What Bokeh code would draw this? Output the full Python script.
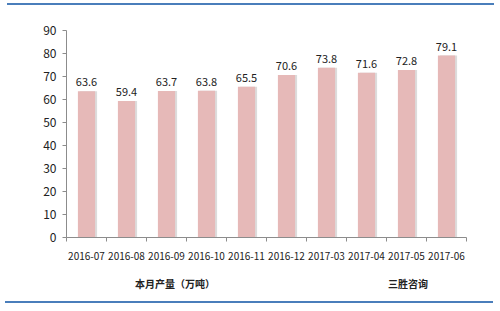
from bokeh.plotting import figure
from bokeh.layouts import column
from bokeh.models import (ColumnDataSource, FixedTicker, Legend, LegendItem, Range1d, Div)
from bokeh.embed import file_html
from bokeh.resources import INLINE
from bokeh.core.properties import value

months = ["2016-07", "2016-08", "2016-09", "2016-10", "2016-11",
          "2016-12", "2017-03", "2017-04", "2017-05", "2017-06"]
output = [63.6, 59.4, 63.7, 63.8, 65.5, 70.6, 73.8, 71.6, 72.8, 79.1]
y_ticks = [0, 10, 20, 30, 40, 50, 60, 70, 80, 90]
series_name = "本月产量（万吨）"
brand = "三胜咨询"

centers = [i + 0.5 for i in range(len(months))]
src = ColumnDataSource(dict(x=centers, y=output, lab=[f"{v:.1f}" for v in output]))

FONT = "Noto Sans CJK SC"
AXIS_COLOR = "#8C8C8C"
BAR_COLOR = "#E6B9B8"
BLUE = "#4A7EBB"

LEFT, RIGHT = 66, 34

top_rule = Div(text="", width=487, height=2, margin=(3, 0, 0, 7),
               styles={"background-color": BLUE})
bottom_rule = Div(text="", width=488, height=2, margin=(1, 0, 0, 5),
                  styles={"background-color": BLUE})

p = figure(width=500, height=261, output_backend="svg", toolbar_location=None,
           x_range=Range1d(0, len(months)), y_range=Range1d(0, 90),
           min_border_left=LEFT, min_border_right=RIGHT, min_border_top=25,
           min_border_bottom=29, outline_line_color=None, margin=(0, 0, 0, 0))
p.xgrid.visible = False
p.ygrid.visible = False

p.vbar(x=[c + 0.05 for c in centers], top=output, width=0.43,
       fill_color="#DCDCDC", line_color=None)
p.vbar(x="x", top="y", width=0.43, source=src, fill_color=BAR_COLOR,
       line_color=None)
p.text(x="x", y="y", text="lab", source=src, text_align="center",
       text_baseline="bottom", y_offset=-5, text_font=value(FONT),
       text_font_size="11px", text_color="#222222")

xa = p.xaxis[0]
xa.ticker = FixedTicker(ticks=centers, minor_ticks=list(range(len(months) + 1)))
xa.major_label_overrides = {c: m for c, m in zip(centers, months)}
xa.major_tick_out = 0
xa.major_tick_in = 0
xa.minor_tick_out = 4
xa.minor_tick_in = 0
xa.minor_tick_line_color = AXIS_COLOR
xa.axis_line_color = AXIS_COLOR
xa.major_label_standoff = 10
xa.major_label_text_font = FONT
xa.major_label_text_font_size = "10px"
xa.major_label_text_color = "#222222"

ya = p.yaxis[0]
ya.ticker = FixedTicker(ticks=y_ticks, minor_ticks=[])
ya.major_tick_out = 4
ya.major_tick_in = 0
ya.major_tick_line_color = AXIS_COLOR
ya.axis_line_color = AXIS_COLOR
ya.major_label_standoff = 6
ya.major_label_text_font = FONT
ya.major_label_text_font_size = "12px"
ya.major_label_text_color = "#222222"

# legend row
lg = figure(width=500, height=34, output_backend="svg", toolbar_location=None,
            min_border_left=LEFT, min_border_right=RIGHT, min_border_top=0,
            min_border_bottom=0, outline_line_color=None, margin=(0, 0, 0, 0),
            x_axis_location=None, y_axis_location=None,
            x_range=Range1d(0, 1), y_range=Range1d(0, 1))
lg.grid.visible = False
key = lg.scatter(x=[], y=[], marker="square", size=5, fill_color=BAR_COLOR,
                 line_color=None)
blank = lg.scatter(x=[], y=[], size=0, fill_alpha=0, line_alpha=0)
legend = Legend(items=[LegendItem(label=series_name, renderers=[key]),
                       LegendItem(label=brand, renderers=[blank])],
                location=(126 - LEFT, 9), orientation="horizontal",
                glyph_width=5, glyph_height=5, label_standoff=4, spacing=164,
                padding=0, margin=0, border_line_alpha=0,
                background_fill_alpha=0,
                label_text_font=FONT, label_text_font_size="10px",
                label_text_font_style="bold", label_text_color="#222222")
lg.add_layout(legend, "center")

layout = column(top_rule, p, lg, bottom_rule, spacing=0)

open("out.html", "w").write(file_html(layout, INLINE))
